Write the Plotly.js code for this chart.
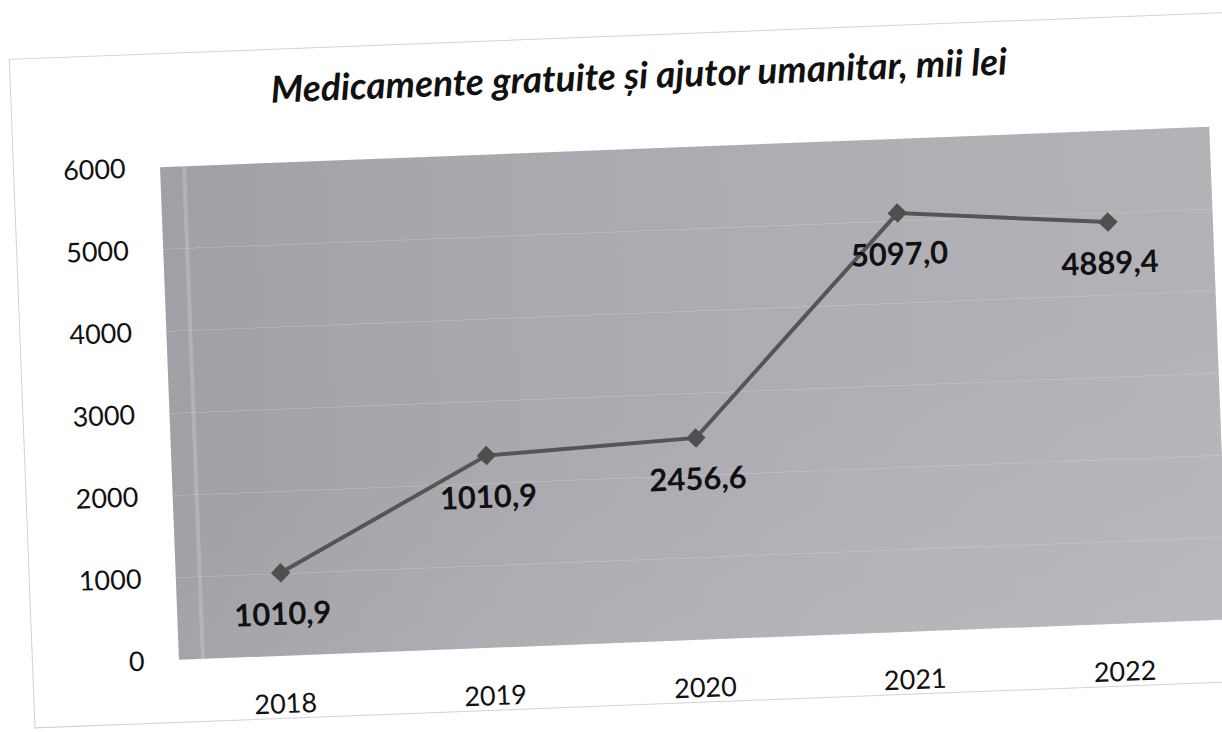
<!DOCTYPE html>
<html>
<head>
<meta charset="utf-8">
<script src="https://cdn.plot.ly/plotly-3.0.1.min.js"></script>
<style>
  html, body { margin: 0; padding: 0; background: #ffffff; overflow: hidden; }
  #wrap { position: absolute; left: 0; top: 0; width: 1222px; height: 732px;
          transform: rotate(-2.2deg); transform-origin: 611px 366px; }
  #frame { position: absolute; left: 21px; top: 36px; width: 1240px; height: 670px;
           border: 1px solid #d2d2d2; box-sizing: border-box; }
  #bg { position: absolute; left: 168px; top: 150px; width: 1050px; height: 493px;
        background: linear-gradient(to right, #a0a0a6 0%, #a8a8ae 30%, #aeaeb4 65%, #b2b2b7 100%); }
  #bg2 { position: absolute; left: 168px; top: 150px; width: 1050px; height: 493px;
         background: linear-gradient(170deg, rgba(255,255,255,0) 50%, rgba(255,255,255,0.10) 100%); }
  #stripe { position: absolute; left: 190px; top: 150px; width: 4px; height: 493px;
            background: rgba(255,255,255,0.18); }
  #chart { position: absolute; left: 0; top: 0; width: 1222px; height: 732px; }
</style>
</head>
<body>
<div id="wrap">
  <div id="frame"></div>
  <div id="bg"></div>
  <div id="bg2"></div>
  <div id="stripe"></div>
  <div id="chart"></div>
</div>
<script>
// Data
const years = ['2018', '2019', '2020', '2021', '2022'];
const values = [1010.9, 2340, 2456.6, 5097.0, 4889.4];
const dataLabels = ['1010,9', '1010,9', '2456,6', '5097,0', '4889,4'];
const yTicks = [0, 1000, 2000, 3000, 4000, 5000, 6000];
const chartTitle = 'Medicamente gratuite și ajutor umanitar, mii lei';

const trace = {
  type: 'scatter',
  mode: 'lines+markers',
  x: years,
  y: values,
  line: { color: '#555555', width: 4 },
  marker: { symbol: 'diamond', size: 15, color: '#4f4f4f' },
  hoverinfo: 'x+y',
  showlegend: false
};

const annotations = years.map((yr, i) => ({
  x: i, y: values[i], xref: 'x', yref: 'y',
  text: '<b>' + dataLabels[i] + '</b>', showarrow: false,
  yshift: -40,
  font: { family: 'Lato, sans-serif', size: 31, color: '#111111' }
}));

const layout = {
  width: 1222, height: 732,
  margin: { l: 168, r: 4, t: 150, b: 89 },
  paper_bgcolor: 'rgba(0,0,0,0)',
  plot_bgcolor: 'rgba(0,0,0,0)',
  title: {
    text: '<b><i>' + chartTitle + '</i></b>',
    x: 0.532, xanchor: 'center', xref: 'container',
    y: 0.895, yanchor: 'middle', yref: 'container',
    font: { family: 'Lato, sans-serif', size: 37, color: '#111111' }
  },
  xaxis: {
    type: 'category',
    range: [-0.5, 4.5],
    showgrid: false, zeroline: false, showline: false,
    ticks: 'outside', ticklen: 24, tickcolor: 'rgba(0,0,0,0)',
    tickfont: { family: 'Lato, sans-serif', size: 27, color: '#111111' },
    fixedrange: true
  },
  yaxis: {
    range: [0, 6000],
    tickvals: yTicks,
    ticktext: yTicks.map(String),
    showgrid: true, gridcolor: 'rgba(255,255,255,0.16)', gridwidth: 1,
    zeroline: false, showline: false,
    ticks: 'outside', ticklen: 28, tickcolor: 'rgba(0,0,0,0)',
    tickfont: { family: 'Lato, sans-serif', size: 27, color: '#111111' },
    fixedrange: true
  },
  annotations: annotations
};

Plotly.newPlot('chart', [trace], layout, { displayModeBar: false, staticPlot: true });
</script>
</body>
</html>
